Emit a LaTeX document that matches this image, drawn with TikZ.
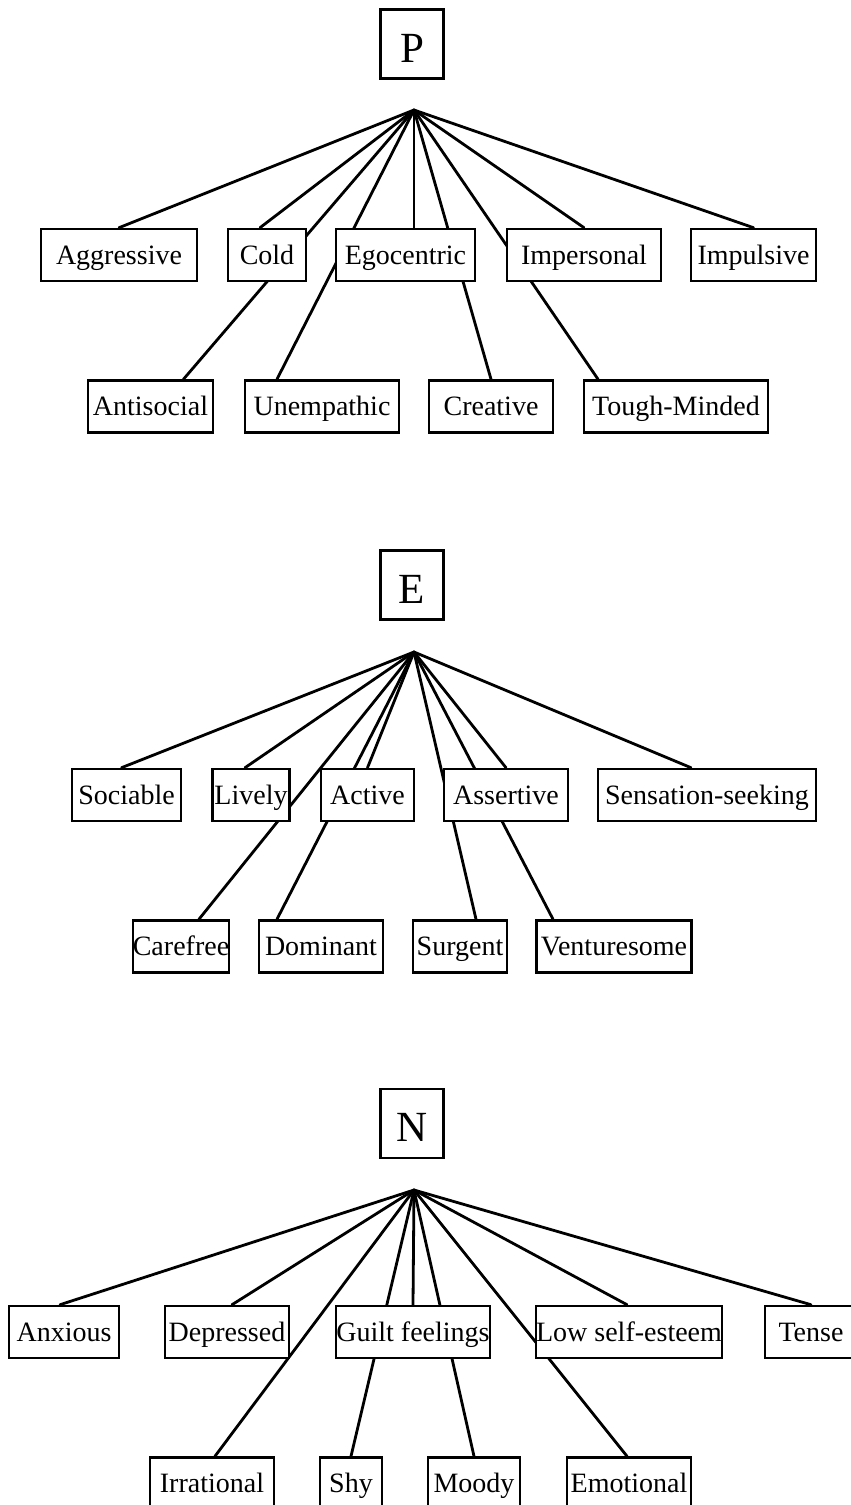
\documentclass[tikz,border=0pt]{standalone}
\usepackage{fontspec}
\setmainfont{Liberation Serif}
\usetikzlibrary{backgrounds}
\tikzset{
  factor/.style={draw, fill=white, minimum width=63, minimum height=69, inner sep=0pt, text height=36, text depth=0, font=\fontsize{43}{46}\selectfont},
  trait/.style={draw, fill=white, minimum height=52, inner sep=0pt, text height=20, text depth=2, font=\fontsize{28}{30}\selectfont},
  every edge/.style={draw, line width=2.8pt, line cap=round}
}
\begin{document}
\begin{tikzpicture}[x=1pt,y=-1pt,line width=2.6pt]
  \useasboundingbox (0,0) rectangle (851,1505);
  \clip (0,0) rectangle (851,1505);

  % Psychoticism
  \node[factor] (P) at (412,44) {P};
  \coordinate (apexP) at (414,110);
  \node[trait, minimum width=156] (aggr) at (119,255) {Aggressive};
  \node[trait, minimum width=78] (cold) at (267,255) {Cold};
  \node[trait, minimum width=139] (ego) at (405.5,255) {Egocentric};
  \node[trait, minimum width=154] (impers) at (584,255) {Impersonal};
  \node[trait, minimum width=125] (impul) at (753.5,255) {Impulsive};
  \node[trait, minimum width=125] (anti) at (150.5,406.5) {Antisocial};
  \node[trait, minimum width=154] (unemp) at (322,406.5) {Unempathic};
  \node[trait, minimum width=124] (creat) at (491,406.5) {Creative};
  \node[trait, minimum width=184] (tough) at (676,406.5) {Tough-Minded};

  % Extraversion
  \node[factor] (E) at (412,585) {E};
  \coordinate (apexE) at (414,652);
  \node[trait, minimum width=109] (soc) at (126.5,795) {Sociable};
  \node[trait, minimum width=77] (live) at (251,795) {Lively};
  \node[trait, minimum width=93] (act) at (367.5,795) {Active};
  \node[trait, minimum width=124] (asser) at (506,795) {Assertive};
  \node[trait, minimum width=218] (sens) at (707,795) {Sensation-seeking};
  \node[trait, minimum width=94] (care) at (181,946.5) {Carefree};
  \node[trait, minimum width=124] (dom) at (321,946.5) {Dominant};
  \node[trait, minimum width=94] (surg) at (460,946.5) {Surgent};
  \node[trait, minimum width=155] (vent) at (614,946.5) {Venturesome};

  % Neuroticism
  \node[factor] (N) at (412,1123.5) {N};
  \coordinate (apexN) at (414,1190);
  \node[trait, minimum width=110] (anx) at (64,1332) {Anxious};
  \node[trait, minimum width=124] (dep) at (227,1332) {Depressed};
  \node[trait, minimum width=154] (guilt) at (413,1332) {Guilt feelings};
  \node[trait, minimum width=186] (low) at (629,1332) {Low self-esteem};
  \node[trait, minimum width=92] (tense) at (811,1332) {Tense};
  \node[trait, minimum width=124] (irr) at (212,1483.5) {Irrational};
  \node[trait, minimum width=62] (shy) at (351,1483.5) {Shy};
  \node[trait, minimum width=92] (moody) at (474,1483.5) {Moody};
  \node[trait, minimum width=124] (emo) at (629,1483.5) {Emotional};

  \begin{scope}[on background layer]
    \path (apexP) edge (aggr.north)
                  edge ([xshift=-7]cold.north)
                  edge ([xshift=33]anti.north)
                  edge ([xshift=-45]unemp.north)
                  edge ([xshift=8.5]ego.north)
                  edge (creat.north)
                  edge (impers.north)
                  edge ([xshift=-78]tough.north)
                  edge (impul.north);
    \path (apexE) edge ([xshift=-5]soc.north)
                  edge ([xshift=-6]live.north)
                  edge ([xshift=18]care.north)
                  edge (act.north)
                  edge ([xshift=-44]dom.north)
                  edge (asser.north)
                  edge ([xshift=16]surg.north)
                  edge ([xshift=-61]vent.north)
                  edge ([xshift=-16]sens.north);
    \path (apexN) edge ([xshift=-4]anx.north)
                  edge ([xshift=5]dep.north)
                  edge ([xshift=3]irr.north)
                  edge (shy.north)
                  edge (guilt.north)
                  edge (moody.north)
                  edge ([xshift=-2]emo.north)
                  edge ([xshift=-2]low.north)
                  edge (tense.north);
  \end{scope}
\end{tikzpicture}
\end{document}
